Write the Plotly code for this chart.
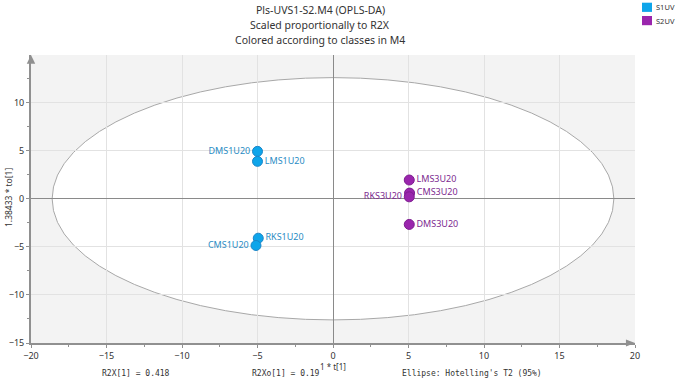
import plotly.graph_objects as go

# Data
s1_names = ["DMS1U20", "LMS1U20", "RKS1U20", "CMS1U20"]
s1_x = [-5.0, -5.0, -4.95, -5.1]
s1_y = [4.93, 3.89, -4.1, -4.86]
s1_pos = ["middle left", "middle right", "middle right", "middle left"]

s2_names = ["LMS3U20", "CMS3U20", "RKS3U20", "DMS3U20"]
s2_x = [5.05, 5.07, 5.05, 5.05]
s2_y = [1.95, 0.59, 0.2, -2.67]
s2_pos = ["middle right", "middle right", "middle left", "middle right"]

ellipse_a = 18.6
ellipse_b = 12.6

title_lines = ["Pls-UVS1-S2.M4 (OPLS-DA)", "Scaled proportionally to R2X",
               "Colored according to classes in M4"]
stats = ["R2X[1] = 0.418", "R2Xo[1] = 0.19", "Ellipse: Hotelling's T2 (95%)"]
x_title = "1 * t[1]"
y_title = "1.38433 * to[1]"

c1, c1_text = "#0ea5ea", "#2a8cc4"
c2, c2_text = "#9a25ad", "#7d2a90"

L, R, T, B = 31, 42, 55, 37
PW, PH = 677 - L - R, 380 - T - B


def px(xp):
    return (xp - L) / PW


def py(yp):
    return (380 - B - yp) / PH


fig = go.Figure()
fig.add_trace(go.Scatter(
    x=s1_x, y=s1_y, mode="markers+text", text=s1_names, textposition=s1_pos,
    marker=dict(size=10, color=c1, line=dict(color="#1b86c8", width=1)),
    textfont=dict(color=c1_text, size=9, family="Noto Sans"),
    name="S1UV", showlegend=False, cliponaxis=False))
fig.add_trace(go.Scatter(
    x=s2_x, y=s2_y, mode="markers+text", text=s2_names, textposition=s2_pos,
    marker=dict(size=10, color=c2, line=dict(color="#7e1d90", width=1)),
    textfont=dict(color=c2_text, size=9, family="Noto Sans"),
    name="S2UV", showlegend=False, cliponaxis=False))

shapes = [
    dict(type="circle", xref="x", yref="y", x0=-ellipse_a, x1=ellipse_a,
         y0=-ellipse_b, y1=ellipse_b, fillcolor="white",
         line=dict(color="#a8a8a8", width=1), layer="below"),
    # axis arrows
    dict(type="path", xref="paper", yref="paper",
         path="M 0.985 -0.012 L 1.0 0 L 0.985 0.012 Z", fillcolor="#909090",
         line=dict(width=0)),
    dict(type="path", xref="paper", yref="paper",
         path="M -0.007 0.97 L 0 1.0 L 0.007 0.97 Z", fillcolor="#909090",
         line=dict(width=0)),
]
annotations = []
legend_items = [("S1UV", c1), ("S2UV", c2)]
for i, (nm, col) in enumerate(legend_items):
    shapes.append(dict(type="rect", xref="paper", yref="paper",
                       x0=px(642), x1=px(652),
                       y0=py(2.7 + i * 13.3), y1=py(11.9 + i * 13.3),
                       fillcolor=col, line=dict(width=0)))
    annotations.append(dict(xref="paper", yref="paper",
                            x=px(654), y=py(7.3 + i * 13.3),
                            text=nm, showarrow=False, xanchor="left", yanchor="middle",
                            font=dict(size=7.5, color="#333", family="Noto Sans")))

for i, line in enumerate(title_lines):
    annotations.append(dict(xref="paper", yref="paper", x=px(320),
                            y=py(10 + i * 15), text=line, showarrow=False,
                            xanchor="center", yanchor="middle",
                            font=dict(size=10.5, color="#333", family="Noto Sans")))

stat_x = [100, 250, 400]
for sx, st in zip(stat_x, stats):
    annotations.append(dict(xref="paper", yref="paper", x=px(sx),
                            y=py(373.5), text=st, showarrow=False,
                            xanchor="left", yanchor="middle",
                            font=dict(size=8, color="#333", family="DejaVu Sans Mono")))

annotations.append(dict(xref="paper", yref="paper", x=px(333), y=py(366),
                        text=x_title, showarrow=False, xanchor="center", yanchor="middle",
                        font=dict(size=8, color="#333", family="Noto Sans")))
annotations.append(dict(xref="paper", yref="paper", x=px(8), y=py(198),
                        text=y_title, showarrow=False, xanchor="center", yanchor="middle",
                        textangle=-90,
                        font=dict(size=8.5, color="#333", family="Noto Sans")))

axis_common = dict(
    tickmode="linear", dtick=5,
    showgrid=True, gridcolor="#e2e2e2", gridwidth=1,
    zeroline=True, zerolinecolor="#8a8a8a", zerolinewidth=1,
    showline=True, linecolor="#909090", linewidth=2,
    ticks="outside", ticklen=3, tickcolor="#909090",
    minor=dict(dtick=2.5, ticks="outside", ticklen=2, tickcolor="#909090", showgrid=False),
    tickfont=dict(size=9, color="#333", family="Noto Sans"),
    automargin=False,
)

fig.update_layout(
    width=677, height=380,
    margin=dict(l=L, r=R, t=T, b=B),
    paper_bgcolor="white", plot_bgcolor="#f3f3f3",
    shapes=shapes, annotations=annotations, showlegend=False,
    font=dict(family="Noto Sans", size=9, color="#333"),
    xaxis=dict(range=[-20, 20], tick0=-20, **axis_common),
    yaxis=dict(range=[-15, 14.95], tick0=-15, **axis_common),
)

fig.write_html("out.html", config={"displayModeBar": False},
               post_script="document.body.style.margin='0';document.body.style.overflow='hidden';")
